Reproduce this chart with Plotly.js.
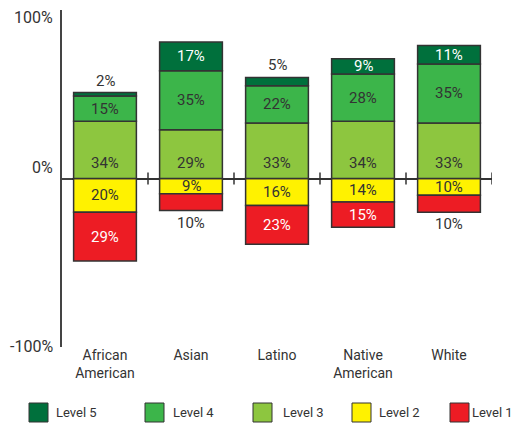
<!DOCTYPE html>
<html><head><meta charset="utf-8">
<script src="https://cdn.plot.ly/plotly-3.0.1.min.js"></script>
<style>html,body{margin:0;padding:0;background:#fff}</style>
</head><body><div id="chart" style="width:514px;height:425px"></div>
<script>
// ---- data ----
const categories = ["African<br>American", "Asian", "Latino", "Native<br>American", "White"];
const level1 = [29, 10, 23, 15, 10];
const level2 = [20, 9, 16, 14, 10];
const level3 = [34, 29, 33, 34, 33];
const level4 = [15, 35, 22, 28, 35];
const level5 = [2, 17, 5, 9, 11];
const levelNames = ["Level 5", "Level 4", "Level 3", "Level 2", "Level 1"];
const yTickVals = [100, 0, -100];
const yTickText = ["100%", "0%", "-100%"];
// which small segments carry their label outside the bar
const level5Outside = [true, false, true, false, false];
const level1Outside = [false, true, false, false, true];

// ---- style ----
const FONT = "Roboto, 'DejaVu Sans Condensed', sans-serif";
const DARK = "#333333";
const colors = {L5: "#00703c", L4: "#3cb54a", L3: "#8dc63f", L2: "#fff200", L1: "#ed1c24"};
const M = {l: 62, r: 22, t: 10, b: 78};
const W = 514, H = 425;
const PW = W - M.l - M.r, PH = H - M.t - M.b;
const px2x = p => (p - M.l) / PW;
const px2y = p => (H - M.b - p) / PH;

function barTrace(name, vals, color, sign) {
  return {
    type: "bar", name: name, x: categories,
    y: vals.map(v => sign * v),
    width: 0.73,
    marker: {color: color, line: {color: DARK, width: 1.5}},
    hoverinfo: "skip", showlegend: false
  };
}
const data = [
  barTrace("Level 2", level2, colors.L2, -1),
  barTrace("Level 1", level1, colors.L1, -1),
  barTrace("Level 3", level3, colors.L3, 1),
  barTrace("Level 4", level4, colors.L4, 1),
  barTrace("Level 5", level5, colors.L5, 1)
];

const annotations = [];
function lab(x, y, v, color, yshift) {
  annotations.push({x: x, y: y, xref: "x", yref: "y", text: v + "%", showarrow: false,
    yshift: yshift || 0, xanchor: "center", yanchor: "middle",
    font: {family: FONT, size: 15, color: color}});
}
categories.forEach((c, i) => {
  lab(c, 0, level3[i], DARK, 16);
  lab(c, level3[i] + level4[i] / 2, level4[i], DARK);
  if (level5Outside[i]) lab(c, level3[i] + level4[i] + level5[i], level5[i], DARK, 12);
  else lab(c, level3[i] + level4[i] + level5[i] / 2, level5[i], "#ffffff");
  lab(c, -level2[i] / 2, level2[i], DARK);
  if (level1Outside[i]) lab(c, -(level2[i] + level1[i]), level1[i], DARK, -12);
  else lab(c, -level2[i] - level1[i] / 2, level1[i], "#ffffff");
});
// y tick labels
const yLabShift = [-7, 11, 1];
yTickVals.forEach((v, i) => {
  annotations.push({x: 0, y: v, xref: "paper", yref: "y", text: yTickText[i], showarrow: false,
    xanchor: "right", yanchor: "middle", xshift: -7, yshift: yLabShift[i],
    font: {family: FONT, size: 16, color: DARK}});
});

const shapes = [];
// small ticks on the zero line at category boundaries
for (let i = 0; i < categories.length; i++) {
  shapes.push({type: "line", xref: "x", yref: "y", x0: i + 0.5, x1: i + 0.5,
    ysizemode: "pixel", yanchor: 0, y0: -6, y1: 6, line: {color: DARK, width: 1.5}});
}
// custom legend
const legendColors = [colors.L5, colors.L4, colors.L3, colors.L2, colors.L1];
const legendBoxLeft = [29, 145, 253, 352, 450];
const legendTextLeft = [54, 171, 281, 377, 470];
levelNames.forEach((n, i) => {
  shapes.push({type: "rect", xref: "paper", yref: "paper",
    x0: px2x(legendBoxLeft[i]), x1: px2x(legendBoxLeft[i] + 19),
    y0: px2y(422), y1: px2y(403),
    fillcolor: legendColors[i], line: {color: DARK, width: 1}});
  annotations.push({xref: "paper", yref: "paper", x: px2x(legendTextLeft[i]), y: px2y(412.5),
    text: n, showarrow: false, xanchor: "left", yanchor: "middle",
    font: {family: FONT, size: 13, color: DARK}});
});

const layout = {
  width: W, height: H, margin: M,
  paper_bgcolor: "#fff", plot_bgcolor: "#fff",
  barmode: "relative", bargap: 0.27,
  font: {family: FONT, color: DARK},
  xaxis: {range: [-0.5, 4.5], showline: false, showgrid: false, zeroline: false, ticks: "",
    tickfont: {family: FONT, size: 14, color: DARK}, ticklabelstandoff: -2, fixedrange: true},
  yaxis: {range: [-100, 100], showline: true, linecolor: "#444", linewidth: 2,
    ticks: "inside", ticklen: 10, tickwidth: 2, tickcolor: "#444",
    tickvals: yTickVals, showticklabels: false, showgrid: false,
    zeroline: true, zerolinecolor: DARK, zerolinewidth: 2, fixedrange: true},
  annotations: annotations, shapes: shapes
};
Plotly.newPlot("chart", data, layout, {displayModeBar: false, staticPlot: true});
</script></body></html>
